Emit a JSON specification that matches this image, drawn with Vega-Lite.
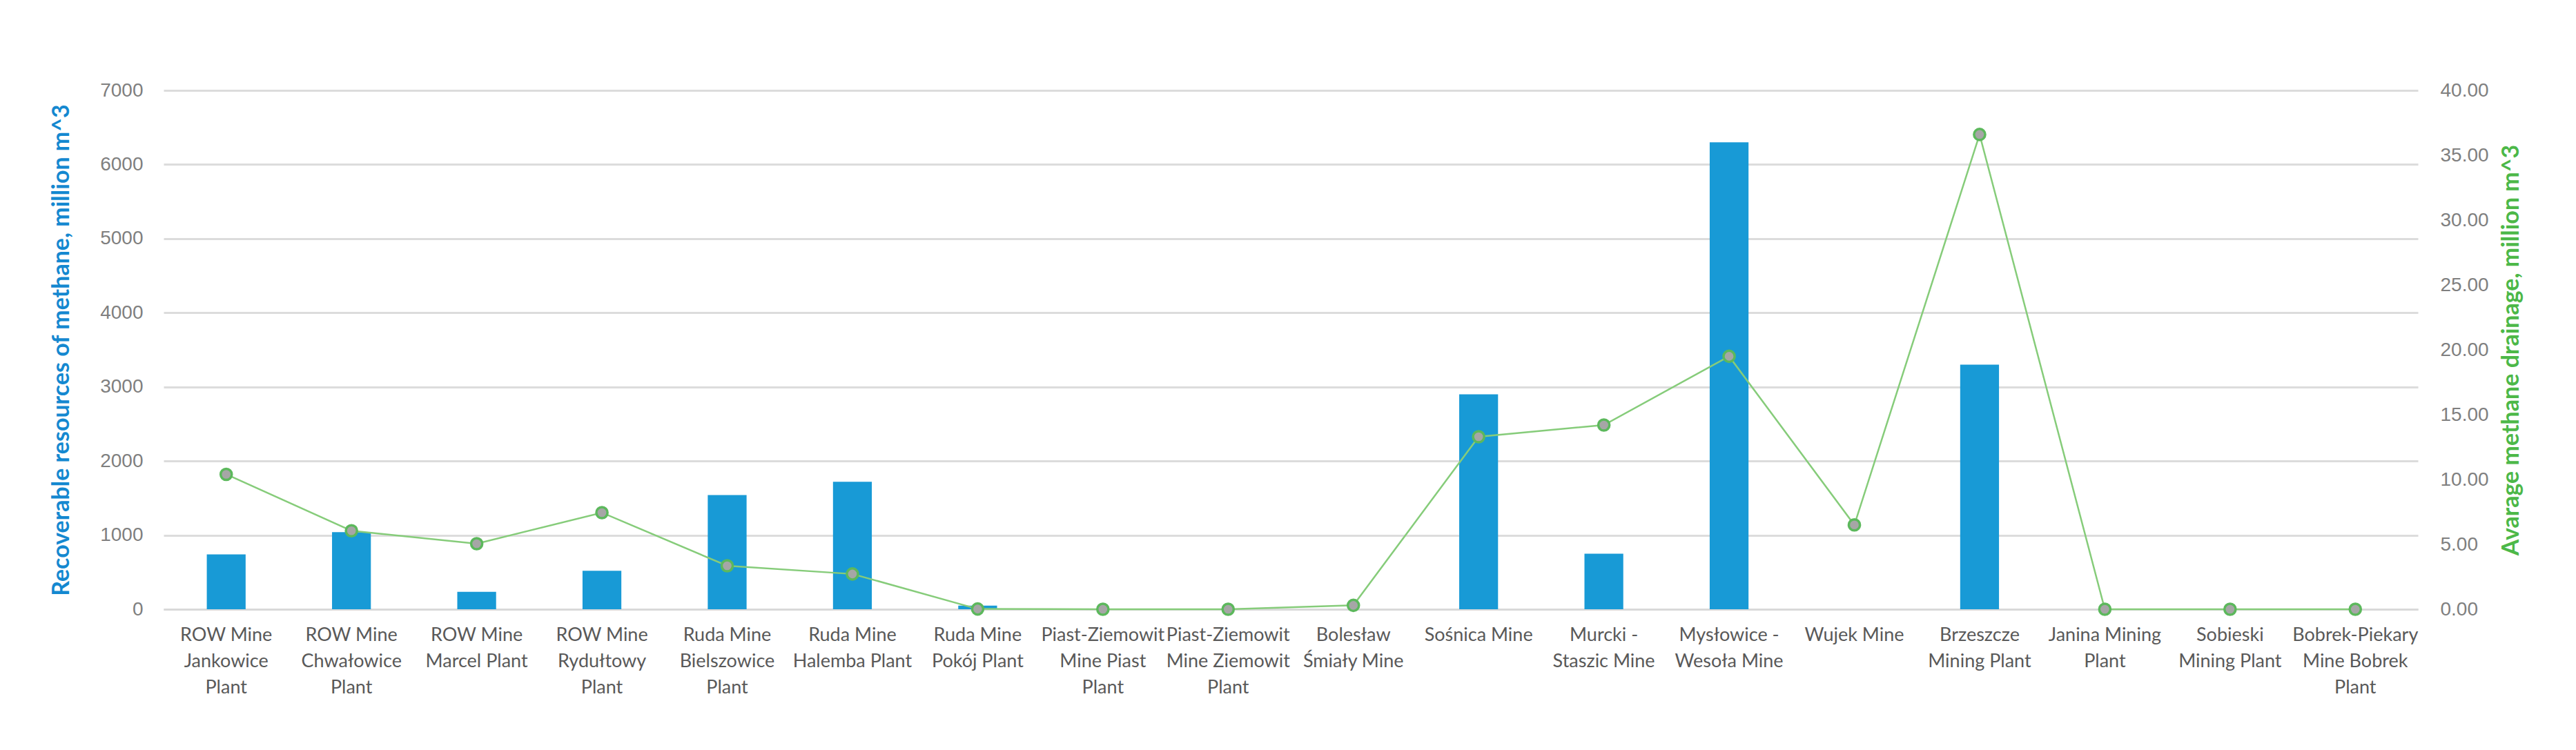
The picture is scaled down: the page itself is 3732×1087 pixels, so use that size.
{
  "$schema": "https://vega.github.io/schema/vega-lite/v6.json",
  "width": 3266,
  "height": 752,
  "autosize": {"type": "none"},
  "padding": {"left": 237, "top": 131, "right": 229, "bottom": 204},
  "background": "#ffffff",
  "config": {"view": {"stroke": null}},
  "data": {
    "values": [
      {"mine": "ROW Mine Jankowice Plant", "resources": 740, "drainage": 10.4},
      {"mine": "ROW Mine Chwałowice Plant", "resources": 1040, "drainage": 6.05},
      {"mine": "ROW Mine Marcel Plant", "resources": 235, "drainage": 5.05},
      {"mine": "ROW Mine Rydułtowy Plant", "resources": 520, "drainage": 7.45},
      {"mine": "Ruda Mine Bielszowice Plant", "resources": 1540, "drainage": 3.35},
      {"mine": "Ruda Mine Halemba Plant", "resources": 1720, "drainage": 2.72},
      {"mine": "Ruda Mine Pokój Plant", "resources": 50, "drainage": 0.02},
      {"mine": "Piast-Ziemowit Mine Piast Plant", "resources": 0, "drainage": 0},
      {"mine": "Piast-Ziemowit Mine Ziemowit Plant", "resources": 0, "drainage": 0},
      {"mine": "Bolesław Śmiały Mine", "resources": 0, "drainage": 0.3},
      {"mine": "Sośnica Mine", "resources": 2900, "drainage": 13.3},
      {"mine": "Murcki - Staszic Mine", "resources": 750, "drainage": 14.2},
      {"mine": "Mysłowice - Wesoła Mine", "resources": 6300, "drainage": 19.5},
      {"mine": "Wujek Mine", "resources": 0, "drainage": 6.5},
      {"mine": "Brzeszcze Mining Plant", "resources": 3300, "drainage": 36.6},
      {"mine": "Janina Mining Plant", "resources": 0, "drainage": 0},
      {"mine": "Sobieski Mining Plant", "resources": 0, "drainage": 0},
      {"mine": "Bobrek-Piekary Mine Bobrek Plant", "resources": 0, "drainage": 0}
    ]
  },
  "encoding": {
    "x": {
      "field": "mine",
      "type": "nominal",
      "sort": null,
      "scale": {"paddingInner": 0.69, "paddingOuter": 0.345},
      "axis": {
        "title": null,
        "labelAngle": 0,
        "labelFont": "Lato",
        "labelFontSize": 27,
        "labelColor": "#595959",
        "labelLineHeight": 38,
        "labelPadding": 24,
        "labelLimit": 400,
        "labelBaseline": "top",
        "ticks": false,
        "domain": true,
        "domainColor": "#d9d9d9",
        "domainWidth": 3,
        "labelExpr": "{'ROW Mine Jankowice Plant':['ROW Mine','Jankowice','Plant'],'ROW Mine Chwałowice Plant':['ROW Mine','Chwałowice','Plant'],'ROW Mine Marcel Plant':['ROW Mine','Marcel Plant'],'ROW Mine Rydułtowy Plant':['ROW Mine','Rydułtowy','Plant'],'Ruda Mine Bielszowice Plant':['Ruda Mine','Bielszowice','Plant'],'Ruda Mine Halemba Plant':['Ruda Mine','Halemba Plant'],'Ruda Mine Pokój Plant':['Ruda Mine','Pokój Plant'],'Piast-Ziemowit Mine Piast Plant':['Piast-Ziemowit','Mine Piast','Plant'],'Piast-Ziemowit Mine Ziemowit Plant':['Piast-Ziemowit','Mine Ziemowit','Plant'],'Bolesław Śmiały Mine':['Bolesław','Śmiały Mine'],'Murcki - Staszic Mine':['Murcki -','Staszic Mine'],'Mysłowice - Wesoła Mine':['Mysłowice -','Wesoła Mine'],'Brzeszcze Mining Plant':['Brzeszcze','Mining Plant'],'Janina Mining Plant':['Janina Mining','Plant'],'Sobieski Mining Plant':['Sobieski','Mining Plant'],'Bobrek-Piekary Mine Bobrek Plant':['Bobrek-Piekary','Mine Bobrek','Plant']}[datum.value] || datum.value"
      }
    }
  },
  "layer": [
    {
      "mark": {"type": "bar", "color": "#189ad6"},
      "encoding": {
        "y": {
          "field": "resources",
          "type": "quantitative",
          "scale": {"domain": [0, 7000], "nice": false},
          "axis": {
            "title": "Recoverable resources of methane, million m^3",
            "titleFont": "Lato",
            "titleFontWeight": "bold",
            "titleFontSize": 34,
            "titleColor": "#1488d0",
            "titlePadding": 38,
            "values": [0, 1000, 2000, 3000, 4000, 5000, 6000, 7000],
            "format": "d",
            "labelFont": "Liberation Sans",
            "labelFontSize": 28,
            "labelColor": "#7f7f7f",
            "labelPadding": 30,
            "ticks": false,
            "domain": false,
            "grid": true,
            "gridColor": "#dcdcdc",
            "gridWidth": 3
          }
        }
      }
    },
    {
      "mark": {
        "type": "line",
        "color": "#86cc7a",
        "strokeWidth": 2.5,
        "point": {"filled": true, "fill": "#a6a6a6", "stroke": "#5cb85c", "strokeWidth": 3.5, "size": 260, "opacity": 1}
      },
      "encoding": {
        "y": {
          "field": "drainage",
          "type": "quantitative",
          "scale": {"domain": [0, 40], "nice": false},
          "axis": {
            "orient": "right",
            "title": "Avarage methane drainage, million m^3",
            "titleFont": "Lato",
            "titleFontWeight": "bold",
            "titleFontSize": 34,
            "titleColor": "#4cb848",
            "titleAngle": 270,
            "titleBaseline": "top",
            "titlePadding": 16,
            "values": [0, 5, 10, 15, 20, 25, 30, 35, 40],
            "format": ".2f",
            "labelFont": "Liberation Sans",
            "labelFontSize": 28,
            "labelColor": "#7f7f7f",
            "labelPadding": 32,
            "ticks": false,
            "domain": false,
            "grid": false
          }
        }
      }
    }
  ],
  "resolve": {"scale": {"y": "independent"}}
}
